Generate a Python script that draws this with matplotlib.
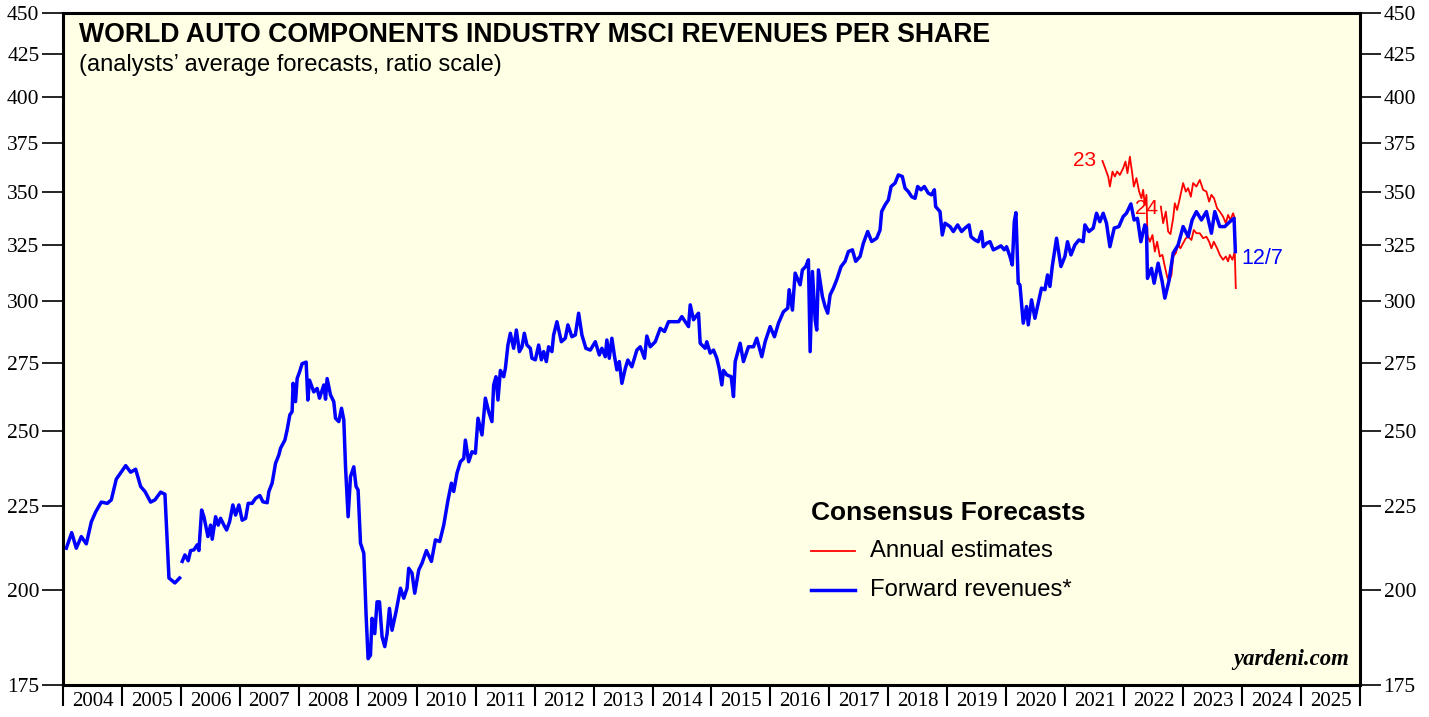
import numpy as np
import matplotlib.pyplot as plt
from matplotlib.ticker import FixedLocator, NullFormatter, NullLocator

# forward revenues, weekly-ish readings (decimal year, value)
fwd1_t = [2004.056, 2004.147, 2004.225, 2004.310, 2004.395, 2004.480, 2004.554, 2004.649,
          2004.751, 2004.819, 2004.903, 2005.063, 2005.147, 2005.232, 2005.317, 2005.390,
          2005.486, 2005.559, 2005.656, 2005.729, 2005.797, 2005.898, 2005.978]
fwd1_v = [212.1, 216.8, 212.1, 215.6, 213.4, 220.1, 223.2, 226.3,
          225.9, 227.0, 233.7, 238.2, 236.0, 237.0, 231.3, 229.7,
          226.3, 227.0, 229.5, 228.8, 203.4, 202.0, 203.4]

fwd2_t = [2006.022, 2006.068, 2006.124, 2006.164, 2006.220, 2006.276, 2006.305, 2006.351,
          2006.390, 2006.458, 2006.503, 2006.531, 2006.588, 2006.632, 2006.673, 2006.729,
          2006.775, 2006.825, 2006.881, 2006.927, 2006.983, 2007.039, 2007.097, 2007.141,
          2007.208, 2007.266, 2007.339, 2007.390, 2007.463, 2007.492, 2007.547, 2007.605,
          2007.661, 2007.690, 2007.763, 2007.802, 2007.847, 2007.886, 2007.903, 2007.944,
          2007.971, 2008.012, 2008.056, 2008.124, 2008.153, 2008.181, 2008.254, 2008.310,
          2008.351, 2008.424, 2008.453, 2008.480, 2008.537, 2008.593, 2008.622, 2008.678,
          2008.724, 2008.763, 2008.792, 2008.836, 2008.876, 2008.932, 2008.971, 2009.005,
          2009.046, 2009.102, 2009.141, 2009.175, 2009.215, 2009.242, 2009.288, 2009.327,
          2009.368, 2009.412, 2009.458, 2009.497, 2009.537, 2009.581, 2009.649, 2009.724,
          2009.780, 2009.836, 2009.864, 2009.920, 2009.966, 2010.034, 2010.090, 2010.164,
          2010.249, 2010.317, 2010.390, 2010.458, 2010.531, 2010.588, 2010.627, 2010.683,
          2010.741, 2010.797, 2010.825, 2010.881, 2010.937, 2010.995, 2011.039, 2011.107,
          2011.164, 2011.220, 2011.276, 2011.305, 2011.344, 2011.378, 2011.419, 2011.475,
          2011.503, 2011.547, 2011.588, 2011.644, 2011.690, 2011.741, 2011.785, 2011.825,
          2011.869, 2011.927, 2011.954, 2012.012, 2012.068, 2012.114, 2012.153, 2012.198,
          2012.237, 2012.293, 2012.322, 2012.378, 2012.453, 2012.520, 2012.564, 2012.632,
          2012.690, 2012.746, 2012.802, 2012.869, 2012.944, 2013.029, 2013.097, 2013.141,
          2013.198, 2013.225, 2013.266, 2013.310, 2013.356, 2013.395, 2013.436, 2013.480,
          2013.537, 2013.581, 2013.649, 2013.734, 2013.792, 2013.864, 2013.903, 2013.961,
          2014.046, 2014.131, 2014.203, 2014.271, 2014.356, 2014.441, 2014.497, 2014.610,
          2014.639, 2014.695, 2014.734, 2014.780, 2014.808, 2014.893, 2014.920, 2014.978,
          2015.034, 2015.090, 2015.131, 2015.175, 2015.203, 2015.259, 2015.334, 2015.373,
          2015.402, 2015.486, 2015.542, 2015.627, 2015.712, 2015.768, 2015.853, 2015.910,
          2015.995, 2016.068, 2016.136, 2016.220, 2016.293, 2016.317, 2016.373, 2016.419,
          2016.503, 2016.542, 2016.598, 2016.644, 2016.673, 2016.712, 2016.758, 2016.785,
          2016.814, 2016.881, 2016.927, 2016.971, 2017.012, 2017.068, 2017.124, 2017.198,
          2017.266, 2017.322, 2017.390, 2017.446, 2017.520, 2017.576, 2017.649, 2017.717,
          2017.802, 2017.859, 2017.886, 2017.944, 2018.000, 2018.046, 2018.114, 2018.169,
          2018.237, 2018.283, 2018.339, 2018.395, 2018.453, 2018.497, 2018.554, 2018.610,
          2018.678, 2018.734, 2018.780, 2018.802, 2018.876, 2018.915, 2018.961, 2019.046,
          2019.102, 2019.175, 2019.242, 2019.300, 2019.368, 2019.402, 2019.469, 2019.525,
          2019.581, 2019.610, 2019.666, 2019.724, 2019.780, 2019.836, 2019.910, 2019.966,
          2020.005, 2020.063, 2020.102, 2020.136, 2020.164, 2020.203, 2020.232, 2020.288,
          2020.344, 2020.373, 2020.429, 2020.486, 2020.542, 2020.598, 2020.656, 2020.700,
          2020.741, 2020.780, 2020.853, 2020.927, 2020.995, 2021.039, 2021.097, 2021.164,
          2021.232, 2021.305, 2021.334, 2021.402, 2021.475, 2021.531, 2021.588, 2021.644,
          2021.700, 2021.758, 2021.831, 2021.910, 2021.983, 2022.039, 2022.114, 2022.169,
          2022.225, 2022.283, 2022.351, 2022.378, 2022.395, 2022.463, 2022.508, 2022.576,
          2022.644, 2022.690, 2022.758, 2022.831, 2022.915, 2023.000, 2023.085, 2023.153,
          2023.225, 2023.310, 2023.395, 2023.480, 2023.537, 2023.622, 2023.707, 2023.792,
          2023.864, 2023.886]
fwd2_v = [208.2, 210.1, 208.4, 211.4, 211.6, 213.1, 211.4, 223.8,
          221.7, 215.6, 219.1, 214.8, 221.7, 219.1, 221.2, 219.1,
          217.6, 220.1, 225.4, 222.2, 225.4, 220.6, 221.2, 225.9,
          225.9, 227.5, 228.4, 226.4, 226.1, 229.7, 232.4, 239.0,
          241.8, 244.1, 246.9, 250.5, 255.8, 257.0, 267.4, 260.6,
          269.2, 271.7, 274.9, 275.5, 261.2, 268.6, 264.2, 265.5,
          261.9, 266.8, 261.5, 269.2, 263.1, 260.6, 254.6, 253.4,
          258.2, 254.0, 237.8, 221.7, 234.5, 237.8, 231.3, 230.2,
          213.6, 210.6, 193.1, 181.6, 182.5, 192.2, 188.1, 196.7,
          196.7, 187.3, 184.7, 188.1, 194.9, 189.0, 194.0, 200.5,
          197.7, 200.5, 206.2, 204.8, 199.1, 205.7, 207.7, 211.4,
          208.2, 214.6, 214.1, 219.1, 227.0, 232.4, 229.7, 235.7,
          239.5, 240.6, 246.9, 239.5, 242.9, 242.4, 254.6, 248.7,
          261.9, 257.0, 253.4, 266.8, 269.9, 261.2, 272.3, 269.9,
          273.0, 282.2, 286.9, 280.9, 288.2, 279.6, 281.5, 286.9,
          282.2, 280.9, 277.0, 276.4, 282.2, 276.4, 279.6, 275.7,
          281.5, 279.6, 286.2, 291.6, 283.5, 284.9, 290.3, 285.5,
          286.2, 295.1, 286.2, 280.9, 280.2, 283.5, 278.3, 280.9,
          277.6, 284.2, 277.0, 284.9, 277.6, 272.5, 275.7, 267.4,
          273.0, 276.3, 273.7, 280.2, 281.5, 277.0, 285.8, 281.5,
          283.5, 288.9, 287.6, 291.6, 291.6, 291.6, 293.7, 289.6,
          298.6, 292.4, 293.7, 295.1, 282.9, 280.9, 283.5, 279.0,
          280.2, 277.0, 273.0, 266.8, 272.3, 270.6, 269.9, 262.5,
          275.7, 282.9, 275.7, 281.5, 281.5, 284.9, 277.6, 283.5,
          289.6, 285.5, 291.0, 295.7, 297.2, 305.0, 296.4, 312.2,
          307.1, 313.6, 315.1, 318.1, 279.6, 312.9, 292.4, 288.2,
          313.6, 302.1, 297.9, 295.1, 302.8, 305.7, 309.3, 315.1,
          317.4, 321.8, 322.6, 317.4, 319.6, 325.6, 331.0, 326.4,
          327.9, 331.7, 340.4, 343.6, 346.0, 352.6, 354.3, 358.4,
          357.6, 351.8, 350.1, 347.6, 346.8, 352.6, 351.0, 352.6,
          349.3, 348.5, 351.0, 342.8, 340.4, 329.4, 334.9, 333.3,
          331.0, 334.1, 331.0, 332.6, 334.1, 328.6, 327.1, 326.3,
          331.0, 324.0, 325.6, 326.3, 322.6, 323.3, 324.4, 322.6,
          324.0, 319.6, 315.8, 335.6, 339.9, 307.8, 307.1, 291.0,
          297.9, 290.3, 300.7, 293.0, 299.3, 305.7, 305.0, 311.4,
          306.4, 315.1, 327.9, 315.1, 319.6, 326.3, 320.3, 324.8,
          327.1, 326.3, 334.1, 331.0, 332.6, 339.6, 335.6, 339.6,
          334.9, 324.0, 332.6, 333.3, 338.0, 339.6, 344.1, 336.4,
          337.2, 326.3, 334.1, 332.6, 309.9, 314.3, 307.8, 316.6,
          308.6, 301.4, 308.6, 321.1, 324.8, 333.3, 328.6, 336.4,
          340.4, 336.4, 340.4, 330.2, 340.4, 333.3, 333.3, 335.6,
          337.2, 321.8]

# annual estimates for 2023
est23_t = [2021.632, 2021.673, 2021.729, 2021.758, 2021.802, 2021.842, 2021.881, 2021.927,
           2021.983, 2022.022, 2022.056, 2022.097, 2022.136, 2022.164, 2022.208, 2022.254,
           2022.293, 2022.322, 2022.351, 2022.378, 2022.395, 2022.436, 2022.480, 2022.520,
           2022.559, 2022.605, 2022.649, 2022.690, 2022.729, 2022.763, 2022.802, 2022.831,
           2022.876, 2022.915, 2022.954, 2023.000, 2023.046, 2023.085, 2023.141, 2023.181,
           2023.225, 2023.283, 2023.339, 2023.395, 2023.441, 2023.480, 2023.520, 2023.576,
           2023.622, 2023.678, 2023.724, 2023.763, 2023.792, 2023.837, 2023.876, 2023.893]
est23_v = [365.5, 362.2, 357.6, 352.6, 360.1, 357.6, 360.1, 358.4,
           361.8, 365.2, 359.3, 367.7, 359.3, 352.6, 356.8, 350.1,
           346.8, 351.0, 343.6, 348.5, 329.4, 326.3, 329.4, 321.8,
           326.3, 319.6, 320.3, 315.1, 310.6, 308.6, 311.4, 319.6,
           321.1, 324.8, 323.3, 325.6, 327.9, 328.6, 327.1, 331.7,
           330.2, 330.2, 327.9, 328.6, 326.3, 323.3, 326.3, 323.3,
           320.3, 318.1, 319.6, 317.4, 320.3, 318.1, 321.8, 305.7]

# annual estimates for 2024
est24_t = [2022.622, 2022.661, 2022.707, 2022.746, 2022.785, 2022.831, 2022.859, 2022.898,
           2022.944, 2023.000, 2023.046, 2023.085, 2023.131, 2023.169, 2023.225, 2023.283,
           2023.339, 2023.395, 2023.441, 2023.480, 2023.525, 2023.576, 2023.622, 2023.678,
           2023.724, 2023.763, 2023.802, 2023.847, 2023.876]
est24_v = [342.8, 334.9, 340.4, 331.0, 329.8, 337.2, 344.4, 341.2,
           346.8, 354.3, 350.1, 351.8, 347.6, 354.3, 352.6, 355.9,
           351.0, 350.1, 345.2, 348.5, 346.8, 342.0, 340.4, 338.0,
           334.9, 338.8, 336.4, 339.6, 337.2]

years = list(range(2004, 2026))
yticks = [175, 200, 225, 250, 275, 300, 325, 350, 375, 400, 425, 450]

fig = plt.figure(figsize=(14.29, 7.17), dpi=100)
ax = fig.add_axes([0.0441, 0.0446, 0.9076, 0.9373])
ax.set_facecolor('#ffffe6')

ax.plot(est23_t, est23_v, color='#ff0000', lw=1.3)
ax.plot(est24_t, est24_v, color='#ff0000', lw=1.3)
ax.plot(fwd1_t, fwd1_v, color='#0000ff', lw=2.5)
ax.plot(fwd2_t, fwd2_v, color='#0000ff', lw=2.5)

ax.set_yscale('log')
ax.set_ylim(175, 450)
ax.set_xlim(2004, 2026)
ax.yaxis.set_major_locator(FixedLocator(yticks))
ax.yaxis.set_minor_locator(NullLocator())
ax.yaxis.set_minor_formatter(NullFormatter())
ax.set_yticklabels([str(v) for v in yticks])
ax.tick_params(axis='y', which='major', direction='out', length=15, width=1.2,
               left=True, right=True, labelleft=True, labelright=True,
               labelsize=15.5, pad=2)

ax.xaxis.set_major_locator(FixedLocator(years + [2026]))
ax.xaxis.set_major_formatter(NullFormatter())
ax.xaxis.set_minor_locator(FixedLocator([y + 0.5 for y in years]))
ax.set_xticklabels([str(y) for y in years], minor=True)
ax.tick_params(axis='x', which='major', direction='out', length=15, width=1.5)
ax.tick_params(axis='x', which='minor', length=0, labelsize=15, pad=5)

for lbl in ax.get_xticklabels(minor=True) + ax.get_yticklabels():
    lbl.set_family('Liberation Serif')
for t in ax.yaxis.get_major_ticks():
    t.label2.set_family('Liberation Serif')

for s in ax.spines.values():
    s.set_linewidth(2.2)

sans = 'Liberation Sans'
ax.text(0.012, 0.967, 'WORLD AUTO COMPONENTS INDUSTRY MSCI REVENUES PER SHARE',
        transform=ax.transAxes, fontsize=19.2, fontweight='bold', family=sans, va='center')
ax.text(0.012, 0.922, '(analysts\u2019 average forecasts, ratio scale)',
        transform=ax.transAxes, fontsize=17, family=sans, va='center')

# legend drawn by hand
ax.text(0.577, 0.256, 'Consensus Forecasts', transform=ax.transAxes,
        fontsize=19, fontweight='bold', family=sans, va='center')
ax.plot([0.577, 0.611], [0.199, 0.199], transform=ax.transAxes, color='#ff0000', lw=1.3)
ax.text(0.622, 0.199, 'Annual estimates', transform=ax.transAxes,
        fontsize=17.2, family=sans, va='center')
ax.plot([0.577, 0.611], [0.141, 0.141], transform=ax.transAxes, color='#0000ff', lw=2.5)
ax.text(0.622, 0.141, 'Forward revenues*', transform=ax.transAxes,
        fontsize=17.2, family=sans, va='center')

ax.text(0.992, 0.022, 'yardeni.com', transform=ax.transAxes, fontsize=16.4,
        fontweight='bold', style='italic', family='Liberation Serif', ha='right', va='bottom')

# series labels
ax.text(est23_t[0] - 0.1, est23_v[0], '23', color='#ff0000', fontsize=15,
        family=sans, ha='right', va='center')
ax.text(est24_t[0] - 0.05, est24_v[0] - 1, '24', color='#ff0000', fontsize=15,
        family=sans, ha='right', va='center')
ax.text(fwd2_t[-1] + 0.1, fwd2_v[-1] - 3, '12/7', color='#0000ff', fontsize=15.5,
        family=sans, ha='left', va='center')

fig.savefig('out.png', dpi=100, facecolor='white')
